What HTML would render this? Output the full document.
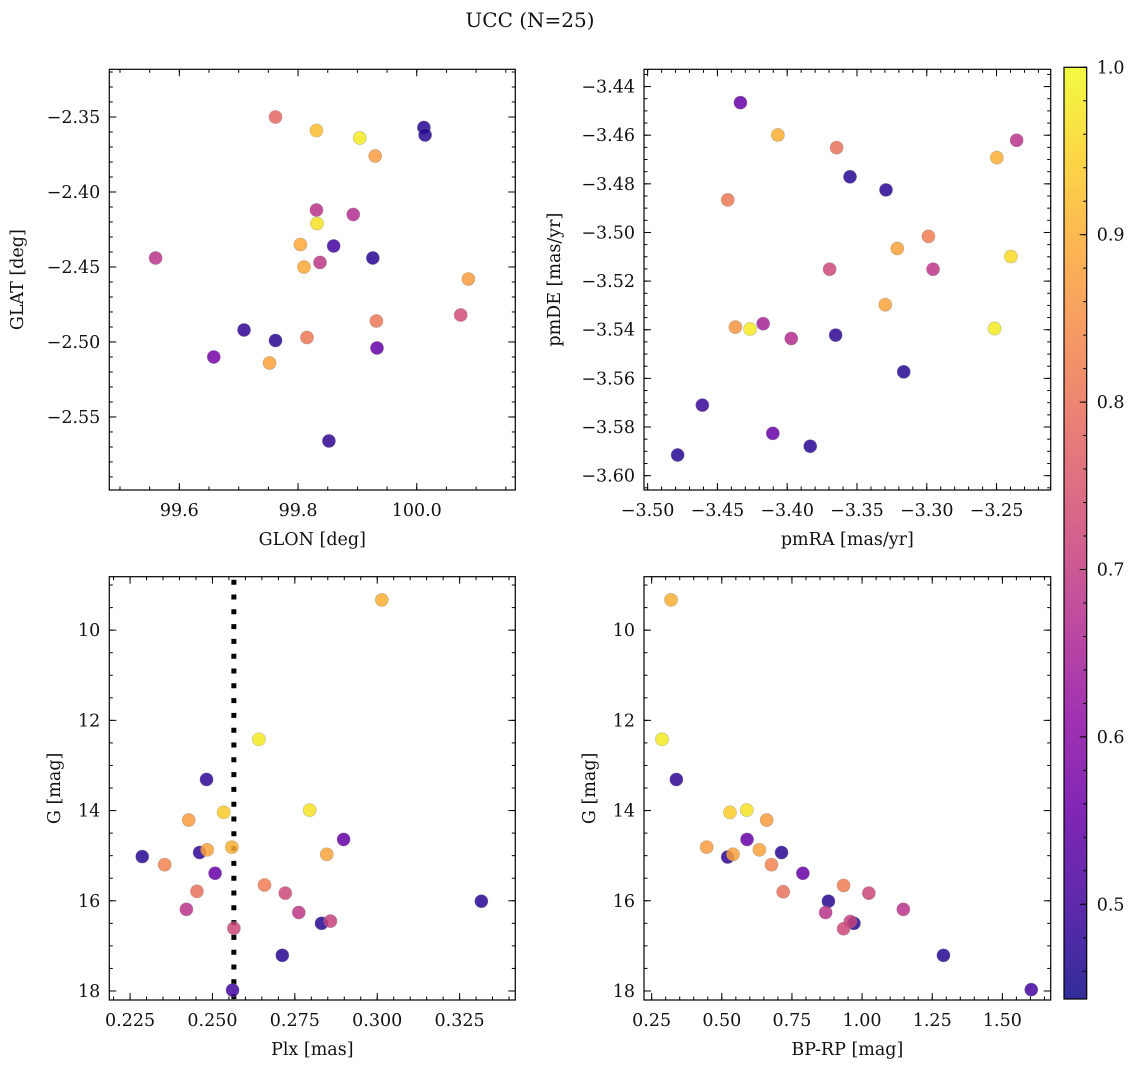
<!DOCTYPE html>
<html><head><meta charset="utf-8"><style>
html,body{margin:0;padding:0;background:#fff;}
svg{display:block;font-family:"DejaVu Serif","Liberation Serif",serif;}
</style></head><body>
<svg id="fig" width="1136" height="1067" viewBox="0 0 1136 1067" xmlns="http://www.w3.org/2000/svg">
<rect width="1136" height="1067" fill="#fff"/>
<text x="530" y="27" font-size="20" text-anchor="middle" fill="#111">UCC (N=25)</text>
</svg>
<script>
// Panel 1: GLON vs GLAT
const glon = [99.762,99.831,99.904,100.012,100.014,99.930,99.831,99.893,99.832,99.804,99.860,99.560,99.926,99.837,99.810,100.087,100.074,99.932,99.709,99.815,99.762,99.933,99.658,99.752,99.852];
const glat = [-2.350,-2.359,-2.364,-2.357,-2.362,-2.376,-2.412,-2.415,-2.421,-2.435,-2.436,-2.444,-2.444,-2.447,-2.450,-2.458,-2.482,-2.486,-2.492,-2.497,-2.499,-2.504,-2.510,-2.514,-2.566];
const prob1 = [0.78,0.92,0.98,0.47,0.47,0.87,0.68,0.67,0.97,0.89,0.50,0.68,0.47,0.69,0.89,0.87,0.73,0.81,0.48,0.81,0.47,0.55,0.57,0.88,0.48];
// Panel 2: pmRA vs pmDE
const pmra = [-3.4335,-3.4067,-3.3646,-3.2356,-3.2498,-3.3550,-3.3292,-3.4426,-3.2988,-3.3211,-3.2397,-3.3696,-3.2955,-3.3297,-3.4371,-3.4266,-3.4172,-3.3971,-3.3653,-3.2514,-3.3165,-3.4608,-3.4103,-3.3835,-3.4785];
const pmde = [-3.4466,-3.4599,-3.4651,-3.4621,-3.4692,-3.4771,-3.4825,-3.4866,-3.5016,-3.5066,-3.5099,-3.5151,-3.5151,-3.5297,-3.5389,-3.5397,-3.5375,-3.5436,-3.5422,-3.5395,-3.5573,-3.5710,-3.5826,-3.5879,-3.5915];
const prob2 = [0.55,0.90,0.80,0.68,0.90,0.47,0.47,0.81,0.82,0.88,0.96,0.72,0.69,0.88,0.86,0.98,0.65,0.67,0.48,0.98,0.47,0.49,0.55,0.47,0.47];
// Panel 3: Plx vs G
const plx = [0.3014,0.2641,0.2482,0.2534,0.2795,0.2428,0.2898,0.2461,0.2484,0.2559,0.2847,0.2287,0.2355,0.2508,0.2658,0.2721,0.2453,0.3316,0.2421,0.2762,0.2831,0.2858,0.2565,0.2712,0.2561];
const gmag3 = [9.33,12.42,13.31,14.04,13.99,14.21,14.64,14.93,14.87,14.81,14.97,15.02,15.20,15.39,15.65,15.83,15.79,16.01,16.19,16.26,16.50,16.45,16.61,17.21,17.98];
const prob3 = [0.90,0.98,0.48,0.94,0.97,0.87,0.55,0.48,0.88,0.90,0.88,0.47,0.83,0.55,0.82,0.72,0.80,0.47,0.68,0.69,0.47,0.71,0.72,0.47,0.50];
const plxLine = [0.2565];
// Panel 4: BP-RP vs G
const bprp = [0.319,0.287,0.338,0.529,0.589,0.660,0.590,0.446,0.521,0.540,0.634,0.713,0.677,0.789,0.719,0.934,1.024,0.880,0.870,1.147,0.971,0.958,0.934,1.290,1.603];
const gmag4 = [9.33,12.42,13.31,14.04,13.99,14.21,14.64,14.81,15.03,14.97,14.87,14.93,15.20,15.39,15.80,15.66,15.83,16.01,16.26,16.19,16.50,16.46,16.62,17.21,17.97];
const prob4 = [0.90,0.98,0.48,0.94,0.97,0.87,0.55,0.87,0.48,0.88,0.88,0.47,0.83,0.55,0.80,0.82,0.72,0.47,0.68,0.68,0.47,0.71,0.72,0.47,0.50];
// Tick labels
const ticks1x = ["99.6","99.8","100.0"];
const ticks1y = ["−2.35","−2.40","−2.45","−2.50","−2.55"];
const ticks2x = ["−3.50","−3.45","−3.40","−3.35","−3.30","−3.25"];
const ticks2y = ["−3.44","−3.46","−3.48","−3.50","−3.52","−3.54","−3.56","−3.58","−3.60"];
const ticks3x = ["0.225","0.250","0.275","0.300","0.325"];
const ticksG = ["10","12","14","16","18"];
const ticks4x = ["0.25","0.50","0.75","1.00","1.25","1.50"];
const cbarTicks = ["0.5","0.6","0.7","0.8","0.9","1.0"];

const NS = "http://www.w3.org/2000/svg";
const svg = document.getElementById('fig');
const VMIN = 0.4434, VMAX = 1.0;
const FS = 17.5;
const plasma = [[13,8,135],[65,4,157],[106,0,168],[143,13,164],[177,42,144],[204,71,120],[225,100,98],[242,132,75],[252,166,54],[252,206,37],[240,249,33]];
function cmap(v){
  let t = (v-VMIN)/(VMAX-VMIN); t=Math.max(0,Math.min(1,t));
  const f=t*10, i=Math.min(9,Math.floor(f)), r=f-i;
  const a=plasma[i], b=plasma[i+1];
  return 'rgb('+a.map((c,k)=>Math.round(c+(b[k]-c)*r)).join(',')+')';
}
function el(tag, attrs, parent){
  const e=document.createElementNS(NS,tag);
  for(const k in attrs) e.setAttribute(k,attrs[k]);
  (parent||svg).appendChild(e); return e;
}
function panel(cfg){
  const g=el('g',{});
  
  
  const {L,R,T,B,x0,x1,y0,y1}=cfg;
  const sx=v=>L+(v-x0)/(x1-x0)*(R-L);
  const sy=v=>T+(v-y0)/(y1-y0)*(B-T);
  if(cfg.vline){
    const ln=el('line',{x1:sx(cfg.vline[0]),x2:sx(cfg.vline[0]),y1:T+3,y2:B,stroke:'#000','stroke-width':5,'stroke-dasharray':'5 9.8'},g);
    
    
  }
  for(let i=0;i<cfg.xs.length;i++){
    const c=el('circle',{cx:sx(cfg.xs[i]),cy:sy(cfg.ys[i]),r:6.6,fill:cmap(cfg.cs[i]),'fill-opacity':0.85,stroke:'#888','stroke-opacity':0.5,'stroke-width':0.6},g);
    
    
  }
  el('rect',{x:L,y:T,width:R-L,height:B-T,fill:'none',stroke:'#000','stroke-width':1.2},g);
  const eps=1e-9;
  function ticksX(start,step,len){
    for(let v=start; v<=x1+eps; v+=step){
      if(v<x0-eps) continue;
      const x=sx(v);
      el('line',{x1:x,x2:x,y1:B,y2:B-len,stroke:'#000','stroke-width':1},g);
      el('line',{x1:x,x2:x,y1:T,y2:T+len,stroke:'#000','stroke-width':1},g);
    }
  }
  function ticksY(start,step,len){
    for(let v=start; v<=Math.max(y0,y1)+eps; v+=step){
      if(v<Math.min(y0,y1)-eps) continue;
      const y=sy(v);
      el('line',{x1:L,x2:L+len,y1:y,y2:y,stroke:'#000','stroke-width':1},g);
      el('line',{x1:R,x2:R-len,y1:y,y2:y,stroke:'#000','stroke-width':1},g);
    }
  }
  ticksX(cfg.xMinStart,cfg.xMinStep,3.5);
  ticksY(cfg.yMinStart,cfg.yMinStep,3.5);
  cfg.xMajor.forEach((v,i)=>{
    const x=sx(v);
    el('line',{x1:x,x2:x,y1:B,y2:B-7,stroke:'#000','stroke-width':1},g);
    el('line',{x1:x,x2:x,y1:T,y2:T+7,stroke:'#000','stroke-width':1},g);
    const t=el('text',{x:x,y:B+26,'font-size':FS,'text-anchor':'middle',fill:'#111'},g);
    t.textContent=cfg.xLabels[i];
    
    
  });
  cfg.yMajor.forEach((v,i)=>{
    const y=sy(v);
    el('line',{x1:L,x2:L+7,y1:y,y2:y,stroke:'#000','stroke-width':1},g);
    el('line',{x1:R,x2:R-7,y1:y,y2:y,stroke:'#000','stroke-width':1},g);
    const t=el('text',{x:L-9,y:y+6,'font-size':FS,'text-anchor':'end',fill:'#111'},g);
    t.textContent=cfg.yLabels[i];
    
    
  });
  const xt=el('text',{x:(L+R)/2,y:B+55,'font-size':FS,'text-anchor':'middle',fill:'#111'},g);
  xt.textContent=cfg.xTitle;
  
  
  const yt=el('text',{x:0,y:0,'font-size':FS,'text-anchor':'middle',fill:'#111',transform:'translate('+cfg.yTitleX+','+(T+B)/2+') rotate(-90)'},g);
  yt.textContent=cfg.yTitle;
  
  
}
panel({name:'glon-glat-panel',L:109.3,R:515.3,T:69.3,B:490,x0:99.482,x1:100.166,y0:-2.3182,y1:-2.5987,
  xs:glon,ys:glat,cs:prob1,xMajor:[99.6,99.8,100.0],xLabels:ticks1x,yMajor:[-2.35,-2.40,-2.45,-2.50,-2.55],yLabels:ticks1y,
  xMinStart:99.5,xMinStep:0.05,yMinStart:-2.59,yMinStep:0.01,xTitle:'GLON [deg]',yTitle:'GLAT [deg]',yTitleX:23});
panel({name:'pmra-pmde-panel',L:644,R:1050.7,T:69.3,B:490,x0:-3.5026,x1:-3.2112,y0:-3.4329,y1:-3.6059,
  xs:pmra,ys:pmde,cs:prob2,xMajor:[-3.50,-3.45,-3.40,-3.35,-3.30,-3.25],xLabels:ticks2x,yMajor:[-3.44,-3.46,-3.48,-3.50,-3.52,-3.54,-3.56,-3.58,-3.60],yLabels:ticks2y,
  xMinStart:-3.50,xMinStep:0.01,yMinStart:-3.605,yMinStep:0.005,xTitle:'pmRA [mas/yr]',yTitle:'pmDE [mas/yr]',yTitleX:560});
panel({name:'plx-g-panel',L:109.3,R:515.3,T:576.7,B:1000,x0:0.2187,x1:0.3419,y0:8.815,y1:18.2,
  xs:plx,ys:gmag3,cs:prob3,vline:plxLine,xMajor:[0.225,0.250,0.275,0.300,0.325],xLabels:ticks3x,yMajor:[10,12,14,16,18],yLabels:ticksG,
  xMinStart:0.220,xMinStep:0.005,yMinStart:9,yMinStep:0.5,xTitle:'Plx [mas]',yTitle:'G [mag]',yTitleX:60});
panel({name:'bprp-g-panel',L:644,R:1050.7,T:576.7,B:1000,x0:0.2227,x1:1.6723,y0:8.815,y1:18.2,
  xs:bprp,ys:gmag4,cs:prob4,xMajor:[0.25,0.50,0.75,1.00,1.25,1.50],xLabels:ticks4x,yMajor:[10,12,14,16,18],yLabels:ticksG,
  xMinStart:0.25,xMinStep:0.05,yMinStart:9,yMinStep:0.5,xTitle:'BP-RP [mag]',yTitle:'G [mag]',yTitleX:595});

// Colorbar
(function(){
  const L=1064,R=1086.7,T=67.3,B=999;
  const cy=v=>B-(v-VMIN)/(VMAX-VMIN)*(B-T);
  const g=el('g',{});
  
  
  const defs=el('defs',{},g);
  const lg=el('linearGradient',{id:'cb',x1:0,y1:1,x2:0,y2:0},defs);
  for(let i=0;i<=20;i++){
    const t=i/20;
    el('stop',{offset:t,'stop-color':cmap(VMIN+t*(VMAX-VMIN))},lg);
  }
  el('rect',{x:L,y:T,width:R-L,height:B-T,fill:'url(#cb)','fill-opacity':0.85,stroke:'#000','stroke-width':1.2},g);
  for(let v=0.46; v<=1.0001; v+=0.02){
    el('line',{x1:R,x2:R-3.5,y1:cy(v),y2:cy(v),stroke:'#000','stroke-width':1},g);
  }
  cbarTicks.forEach(s=>{
    const v=parseFloat(s), y=cy(v);
    el('line',{x1:R,x2:R-7,y1:y,y2:y,stroke:'#000','stroke-width':1},g);
    const t=el('text',{x:R+10,y:y+6,'font-size':FS,fill:'#111'},g);
    t.textContent=s;
    
    
  });
})();
</script>
</body></html>
